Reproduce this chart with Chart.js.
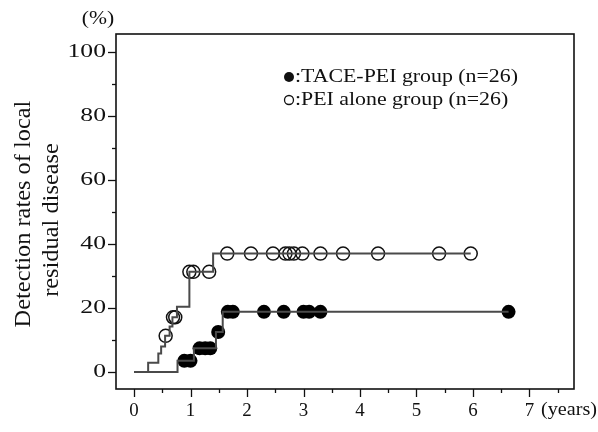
<!DOCTYPE html>
<html>
<head>
<meta charset="utf-8">
<script src="https://cdn.jsdelivr.net/npm/chart.js@4"></script>
<style>
  html, body { margin: 0; padding: 0; background: #fff; }
  #wrap { width: 598px; height: 432px; }
</style>
</head>
<body>
<div id="wrap"><canvas id="kmChart" width="598" height="432"></canvas></div>
<script>
// TACE-PEI group (filled marks): step curve, time in years / rate in %
const tacePeiTimes = [0, 0.77, 1.06, 1.45, 1.57, 6.63];
const tacePeiRates = [0, 3.5, 7.4, 12.5, 18.8, 18.8];
const tacePeiMarkTimes = [0.89, 1.00, 1.16, 1.26, 1.35, 1.49, 1.66, 1.75, 2.30, 2.65, 3.00, 3.10, 3.30, 6.63];
const tacePeiMarkRates = [3.5, 3.5, 7.4, 7.4, 7.4, 12.5, 18.8, 18.8, 18.8, 18.8, 18.8, 18.8, 18.8, 18.8];

// PEI alone group (open marks)
const peiTimes = [0, 0.25, 0.43, 0.48, 0.55, 0.63, 0.68, 0.76, 0.98, 1.40, 5.96];
const peiRates = [0, 2.9, 5.8, 8.0, 11.3, 14.2, 17.1, 20.4, 31.3, 37.0, 37.0];
const peiMarkTimes = [0.56, 0.69, 0.73, 0.98, 1.05, 1.33, 1.65, 2.07, 2.46, 2.68, 2.75, 2.83, 2.98, 3.30, 3.70, 4.32, 5.40, 5.96];
const peiMarkRates = [11.3, 17.1, 17.1, 31.3, 31.3, 31.3, 37.0, 37.0, 37.0, 37.0, 37.0, 37.0, 37.0, 37.0, 37.0, 37.0, 37.0, 37.0];

// axis ticks
const xTickLabels = ['0', '1', '2', '3', '4', '5', '6', '7'];
const yTickLabels = ['0', '20', '40', '60', '80', '100'];

const toPoints = (xs, ys) => xs.map((x, i) => ({ x: x, y: ys[i] }));

const SERIF = '"Liberation Serif", "DejaVu Serif", serif';
const INK = '#111111';

// texto con estiramiento horizontal (sx)
function stretchText(ctx, text, x, y, align, sx) {
    const w = ctx.measureText(text).width * sx;
    let x0 = x;
    if (align === 'right') x0 = x - w;
    else if (align === 'center') x0 = x - w / 2;
    ctx.save();
    ctx.textAlign = 'left';
    ctx.translate(x0, y);
    ctx.scale(sx, 1);
    ctx.fillText(text, 0, 0);
    ctx.restore();
}

// dibuja caja, ticks y textos con las escalas del chart
const decorPlugin = {
    id: 'decor',
    afterDraw(chart) {
        const ctx = chart.ctx;
        const { left, right, top, bottom } = chart.chartArea;
        const xs = chart.scales.x;
        const ys = chart.scales.y;

        ctx.save();
        ctx.strokeStyle = INK;
        ctx.fillStyle = INK;
        ctx.lineWidth = 1.6;
        ctx.strokeRect(left, top, right - left, bottom - top);

        // y ticks (major 20, minor 10)
        ctx.lineWidth = 1.3;
        for (let v = 0; v <= 100; v += 10) {
            const y = Math.round(ys.getPixelForValue(v)) + 0.5;
            const len = v % 20 === 0 ? 8 : 4;
            ctx.beginPath();
            ctx.moveTo(left, y);
            ctx.lineTo(left - len, y);
            ctx.stroke();
        }
        // x ticks (major 1, minor 0.5)
        for (let v = 0; v <= 7.5; v += 0.5) {
            const x = Math.round(xs.getPixelForValue(v)) + 0.5;
            const len = v % 1 === 0 ? 8 : 4;
            ctx.beginPath();
            ctx.moveTo(x, bottom);
            ctx.lineTo(x, bottom + len);
            ctx.stroke();
        }

        // tick labels
        ctx.textBaseline = 'middle';
        ctx.font = '19px ' + SERIF;
        yTickLabels.forEach(lbl => {
            stretchText(ctx, lbl, left - 10, ys.getPixelForValue(Number(lbl)), 'right', 1.35);
        });
        ctx.font = '18px ' + SERIF;
        xTickLabels.forEach(lbl => {
            stretchText(ctx, lbl, xs.getPixelForValue(Number(lbl)), bottom + 22, 'center', 1.05);
        });
        stretchText(ctx, '(years)', 541, bottom + 21, 'left', 1.12);
        stretchText(ctx, '(%)', 98, 19, 'center', 1.2);

        // titulo eje y (dos lineas, rotado)
        ctx.save();
        ctx.translate(24, 214);
        ctx.rotate(-Math.PI / 2);
        ctx.font = '23px ' + SERIF;
        stretchText(ctx, 'Detection rates of local', 0, 0, 'center', 1.06);
        stretchText(ctx, 'residual disease', -6, 28, 'center', 1.06);
        ctx.restore();

        // leyenda
        ctx.font = '19px ' + SERIF;
        ctx.beginPath();
        ctx.arc(289, 77, 5, 0, Math.PI * 2);
        ctx.fill();
        stretchText(ctx, ':TACE-PEI group (n=26)', 295, 77, 'left', 1.15);
        ctx.lineWidth = 1.3;
        ctx.beginPath();
        ctx.arc(289, 100, 4.5, 0, Math.PI * 2);
        ctx.stroke();
        stretchText(ctx, ':PEI alone group (n=26)', 295, 100, 'left', 1.15);
        ctx.restore();
    }
};

const stepLine = (data) => ({
    data: data,
    showLine: true,
    stepped: 'before',
    borderColor: '#4a4a4a',
    borderWidth: 2,
    pointRadius: 0,
    fill: false
});

new Chart(document.getElementById('kmChart'), {
    type: 'scatter',
    data: {
        datasets: [
            stepLine(toPoints(tacePeiTimes, tacePeiRates)),
            stepLine(toPoints(peiTimes, peiRates)),
            {
                data: toPoints(tacePeiMarkTimes, tacePeiMarkRates),
                showLine: false,
                pointRadius: 7,
                pointBackgroundColor: '#000',
                pointBorderColor: '#000',
                pointBorderWidth: 0
            },
            {
                data: toPoints(peiMarkTimes, peiMarkRates),
                showLine: false,
                pointRadius: 6.5,
                pointBackgroundColor: 'rgba(0,0,0,0)',
                pointBorderColor: '#111',
                pointBorderWidth: 1.5
            }
        ]
    },
    options: {
        responsive: false,
        animation: false,
        layout: { padding: { left: 116, right: 24, top: 34, bottom: 43 } },
        plugins: {
            legend: { display: false },
            tooltip: { enabled: false }
        },
        scales: {
            x: { type: 'linear', min: -0.319, max: 7.788, display: false },
            y: { type: 'linear', min: -5.3, max: 105.6, display: false }
        }
    },
    plugins: [decorPlugin]
});
</script>
</body>
</html>
